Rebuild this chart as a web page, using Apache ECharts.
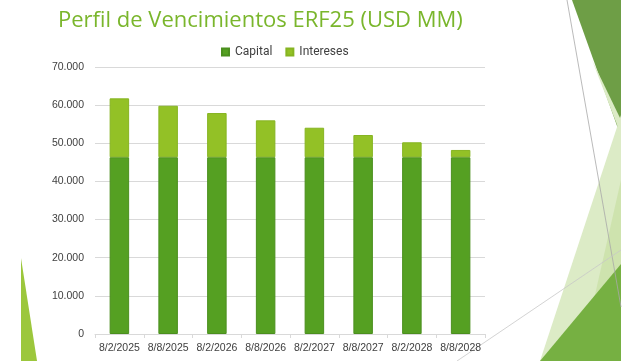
<!DOCTYPE html>
<html><head><meta charset="utf-8">
<script src="https://cdn.jsdelivr.net/npm/echarts@6/dist/echarts.min.js"></script>
<style>html,body{margin:0;padding:0;background:#fff}#c{width:642px;height:361px}</style>
</head><body><div id="c"></div>
<script>
const categories = ['8/2/2025','8/8/2025','8/2/2026','8/8/2026','8/2/2027','8/8/2027','8/2/2028','8/8/2028'];
const capital = [46340,46340,46340,46340,46340,46340,46340,46340];
const intereses = [15440,13500,11590,9680,7740,5830,3920,1910];
const yTicks = [0,10000,20000,30000,40000,50000,60000,70000];

function fmt(v){return String(v).replace(/\B(?=(\d{3})+(?!\d))/g,'.');}

const chart = echarts.init(document.getElementById('c'));
chart.setOption({
  backgroundColor:'#ffffff',
  animation:false,
  title:{text:'Perfil de Vencimientos ERF25 (USD MM)',left:53,top:5,
    textStyle:{color:'#7AB62C',fontSize:22,fontWeight:'normal',fontFamily:'Open Sans'}},
  legend:{top:41,left:216,itemWidth:7,itemHeight:7,itemGap:13,icon:'rect',
    textStyle:{color:'#404040',fontSize:12,fontFamily:'Roboto',padding:[0,0,0,1]},
    data:['Capital','Intereses']},
  grid:{left:95,top:67,width:390,height:267,containLabel:false},
  xAxis:{type:'category',data:categories,
    axisLine:{lineStyle:{color:'#d9d9d9'}},
    axisTick:{show:true,length:4,lineStyle:{color:'#d9d9d9'}},
    axisLabel:{color:'#404040',fontSize:10.5,fontFamily:'Liberation Sans',margin:9,interval:0}},
  yAxis:{type:'value',min:yTicks[0],max:yTicks[yTicks.length-1],interval:10000,
    axisLine:{show:false},axisTick:{show:false},
    splitLine:{lineStyle:{color:'#d9d9d9'}},
    axisLabel:{color:'#404040',fontSize:10.5,fontFamily:'Liberation Sans',margin:11,formatter:fmt}},
  series:[
    {name:'Capital',type:'bar',stack:'t',data:capital,barWidth:'40%',
      itemStyle:{color:'#55A022',borderColor:'#4B8F1E',borderWidth:1}},
    {name:'Intereses',type:'bar',stack:'t',data:intereses,barWidth:'40%',
      itemStyle:{color:'#93C126',borderColor:'#86B422',borderWidth:1}}
  ],
  graphic:[
    {type:'polygon',silent:true,z:-1,shape:{points:[[21,258],[21,361],[37,361]]},style:{fill:'#9CC73C'}},
    {type:'polygon',silent:true,z:-1,shape:{points:[[572,0],[621,0],[621,137]]},style:{fill:'#6E9E46'}},
    {type:'polygon',silent:true,z:-1,shape:{points:[[592,60],[621,135],[621,120]]},style:{fill:'#DCEBC6'}},
    {type:'polygon',silent:true,z:-1,shape:{points:[[621,115],[540,361],[621,361]]},style:{fill:'#DCEBC6'}},
    {type:'polygon',silent:true,z:-1,shape:{points:[[621,180],[580,361],[621,361]]},style:{fill:'#C5DD9E',opacity:0.6}},
    {type:'polygon',silent:true,z:-1,shape:{points:[[621,264],[540,361],[621,361]]},style:{fill:'#76B042'}},
    {type:'line',silent:true,z:0,shape:{x1:567,y1:0,x2:621,y2:307},style:{stroke:'#a8a8a8',lineWidth:0.8}},
    {type:'line',silent:true,z:0,shape:{x1:457,y1:361,x2:621,y2:250},style:{stroke:'#c8c8c8',lineWidth:0.8}}
  ]
});
</script></body></html>
